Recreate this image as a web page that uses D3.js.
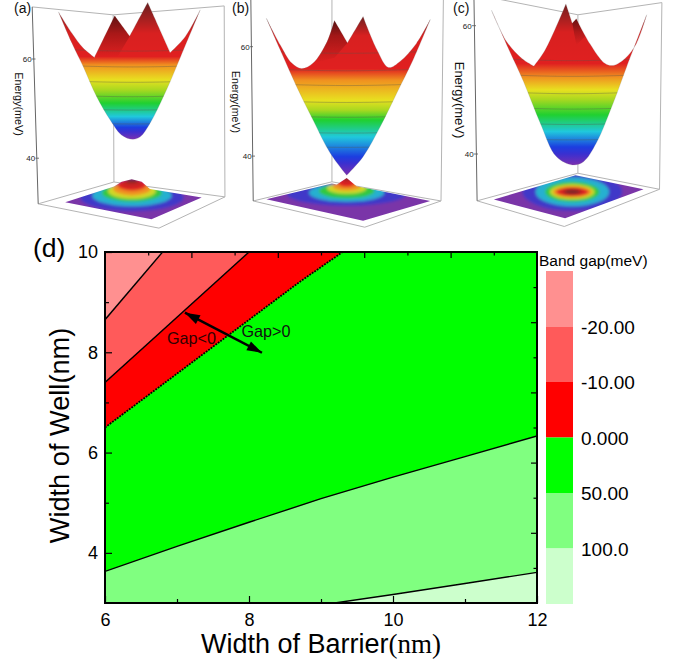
<!DOCTYPE html>
<html>
<head>
<meta charset="utf-8">
<script src="https://cdn.jsdelivr.net/npm/d3@7"></script>
<style>
  html, body { margin: 0; background: #fff; }
  svg { display: block; font-family: "Liberation Sans", Arial, sans-serif; }
</style>
</head>
<body>
<svg width="688" height="664"></svg>
<script>
// panel (d) contour boundaries, x = barrier width, y = well width
var line20X = [6, 6.8],  line20Y = [8.65, 10];
var line10X = [6, 8.0],  line10Y = [7.4, 10];
var line0X = [6, 8.7, 9.3],  line0Y = [6.5, 9.4, 10];
var line50X = [6, 7, 8, 9, 10, 11, 12];
var line50Y = [3.63, 4.13, 4.61, 5.08, 5.51, 5.92, 6.33];
var line100X = [6, 9.19, 10, 11, 12];
var line100Y = [3, 3, 3.17, 3.39, 3.61];

var legendColors = ["#ff9090", "#ff5a5a", "#ff0000", "#00ff00", "#80ff80", "#ccffcc"];
var legendLabels = ["-20.00", "-10.00", "0.000", "50.00", "100.0"];
var xMajor = [6, 8, 10, 12], xMinor = [7, 9, 11];
var yMajor = [4, 6, 8, 10], yMinor = [5, 7, 9];
var mirrorMajor = [.2, .4, .6, .8], mirrorMinor = [.1, .3, .5, .7, .9];
var arrowX = [7.11, 8.18], arrowY = [8.79, 7.99];

// rainbow used by the 3D surfaces, bottom to top
var rainbow = ["#7a2fb0", "#3a30d0", "#1c3ee0", "#20c8dc", "#20d030", "#a8d820", "#e8e020", "#f09020", "#e02020", "#d82020", "#702020"];
// colours of the floor rings, outermost first
var ringColors = ["#4038c8", "#28b0d0", "#30c840", "#d0d828", "#f09020", "#e02020", "#c82020", "#802828"];

// panel (a): outline read clockwise from the left tip, tips are the sharp corners
var aOutlineK = [-.99, -.81, -.66, -.51, -.24, -.04, .2, .5, .7, .9, .64, .45, .23, .1, 0, -.15, -.3, -.48, -.66, -.81];
var aOutlineE = [69.5, 65.2, 62.2, 60.3, 68.7, 64.6, 71.4, 61.3, 64.5, 69.9, 60.5, 53.75, 47, 44.3, 43.8, 44.7, 47.7, 52.4, 58.5, 63.2];
var aTips = [0, 3, 4, 5, 6, 7, 9];
var aBackK = [-.51, -.24, -.04, -.2];
var aBackE = [60.3, 68.7, 64.6, 60.5];
var aLevels = [43.8, 45.35, 46.2, 48.4, 51.1, 53.75, 55.8, 58.8, 60.5, 65.2, 71];
var aContours = [61.7, 58.5, 55.4, 52.5, 49.8, 47];
var aFrameK = [-1.34, -.26, 1.22, -1.26, -.25, 1.23, .35];
var aFrameE = [70.5, 68.9, 70.7, 30.8, 35.2, 32.2, 25.9];
var aFloorK = [-.9, -.25, -.147, -.013, .12, .23, .92, .25];
var aFloorE = [31.1, 34.3, 35.26, 35.74, 35.26, 33.8, 32.1, 27.7];
var aRingRx = [.69, .53, .4, .32, .25, .19, .14, .08];
var aRingCy = [32.1, 32.5, 33, 33.4, 33.9, 34.6, 34.9, 35.4];
var aRingRy = [2.8, 2.2, 1.75, 1.6, 1.4, 1.15, .8, .4];

// panel (b)
var bOutlineK = [-.98, -.81, -.67, -.55, -.41, -.24, -.15, .01, .2, .37, .51, .65, .85, 1.02, .81, .61, .41, .2, 0, -.2, -.41, -.61, -.81];
var bOutlineE = [65.2, 60.3, 57, 56, 57, 60.9, 64.8, 60.7, 65.5, 59.4, 56.2, 57.3, 60.6, 65, 57.6, 51.5, 45.4, 39.9, 36.5, 40.5, 46.6, 52.7, 59.4];
var bTips = [0, 6, 7, 8, 13, 18];
var bBackK = [-.4, -.15, .01, -.15];
var bBackE = [57, 64.8, 60.7, 58];
var bLevels = [36.5, 38.7, 39.9, 43.5, 46.6, 48.4, 50.2, 53.9, 56, 62, 65.5];
var bContours = [58.9, 55.7, 53, 49.9, 47.2, 44.3, 41.7];
var bFrameK = [-1.17, -.18, 1.18, -1.14, -.18, 1.15, .22];
var bFrameE = [69.9, 69.1, 69.9, 31.8, 35.3, 31.8, 27];
var bFloorK = [-.98, -.18, -.12, 0, .12, 1.02, .2];
var bFloorE = [32.1, 35, 34.8, 36, 34.5, 31.8, 28.2];
var bRingRx = [.73, .46, .34, .24, .17, .11, .06, .03];
var bRingCy = [33.1, 33.3, 33.6, 34.1, 34.5, 35.1, 35.6, 36];
var bRingRy = [2.2, 1.65, 1.3, 1, .8, .73, .55, .37];

// panel (c)
var cOutlineK = [-1.01, -.82, -.63, -.48, -.34, -.08, 0, .05, .22, .41, .51, .66, .8, .93, .68, .51, .3, .14, 0, -.2, -.4, -.61, -.8];
var cOutlineE = [62.4, 57.5, 54.9, 53.7, 56.2, 63.4, 60.4, 61.1, 57.2, 54.1, 53.8, 54.9, 57.2, 61.7, 53.6, 47.9, 41.7, 38.8, 38.3, 39.6, 44.8, 51.3, 56.5];
var cTips = [0, 3, 5, 6, 7, 13];
var cBackK = [0, .05, .16, .05];
var cBackE = [60.4, 61.1, 58.3, 57];
var cLevels = [38.3, 40, 41.1, 43.5, 46.1, 48.5, 50, 52, 54.1, 59, 63.4];
var cContours = [54.65, 52.2, 49.5, 47.1, 44.7, 42.3];
var cFrameK = [-1.23, .07, 1.12, -1.19, .07, 1.09, -.1];
var cFrameE = [64.9, 61.7, 63.6, 32.7, 37, 34.5, 28.7];
var cFloorK = [-.98, .04, .89, -.09];
var cFloorE = [32.9, 36.7, 34.5, 30];
var cRingRx = [.625, .46, .34, .28, .24, .2, .14, .1];
var cRingCy = [34.1, 34.1, 34.1, 34.1, 34.1, 34.1, 34.1, 34.1];
var cRingRy = [2.96, 2.26, 1.56, 1.17, .9, .7, .5, .39];

var svg = d3.select("svg");
var defs = svg.append("defs");
defs.append("filter").attr("id", "soft").append("feGaussianBlur").attr("stdDeviation", 1.4);
var shade = defs.append("linearGradient").attr("id", "backShade").attr("x1", 0).attr("x2", 0).attr("y1", 0).attr("y2", 1);
shade.append("stop").attr("offset", 0).attr("stop-color", "#200000").attr("stop-opacity", .45);
shade.append("stop").attr("offset", 1).attr("stop-color", "#200000").attr("stop-opacity", 0);

var panels = [
    {id: "a", cx: 132.7, hw: 75, y60: 59, pxPerMeV: 4.96, outlineK: aOutlineK, outlineE: aOutlineE, tips: aTips, backK: aBackK, backE: aBackE, levels: aLevels, contours: aContours, frameK: aFrameK, frameE: aFrameE, floorK: aFloorK, floorE: aFloorE, ringRx: aRingRx, ringCy: aRingCy, ringRy: aRingRy, ringCx: -.01, labelX: 14, labelY: 13, nameX: 19, nameY: 104, nameSize: 10.8, tickRight: [32, 35.5], tickLen: 3.5},
    {id: "b", cx: 346.7, hw: 82, y60: 46.7, pxPerMeV: 5.47, outlineK: bOutlineK, outlineE: bOutlineE, tips: bTips, backK: bBackK, backE: bBackE, levels: bLevels, contours: bContours, frameK: bFrameK, frameE: bFrameE, floorK: bFloorK, floorE: bFloorE, ringRx: bRingRx, ringCy: bRingCy, ringRy: bRingRy, ringCx: 0, labelX: 232, labelY: 13, nameX: 236, nameY: 102, nameSize: 10.5, tickRight: [250, 252], tickLen: 3},
    {id: "c", cx: 572.3, hw: 80, y60: 25.7, pxPerMeV: 6.415, outlineK: cOutlineK, outlineE: cOutlineE, tips: cTips, backK: cBackK, backE: cBackE, levels: cLevels, contours: cContours, frameK: cFrameK, frameE: cFrameE, floorK: cFloorK, floorE: cFloorE, ringRx: cRingRx, ringCy: cRingCy, ringRy: cRingRy, ringCx: 0, labelX: 453, labelY: 13, nameX: 460, nameY: 100, nameSize: 13, tickRight: [472, 474], tickLen: 4}
];

panels.forEach(function(p) {
    var kx = d3.scaleLinear().domain([-1, 1]).range([p.cx - p.hw, p.cx + p.hw]);
    var ey = d3.scaleLinear().domain([60, 40]).range([p.y60, p.y60 + 20 * p.pxPerMeV]);
    var g = svg.append("g").attr("class", "panel-" + p.id);
    var color = d3.scaleLinear().domain(p.levels).range(rainbow);

    // frame: 0 TL, 1 TM, 2 TR, 3 BL, 4 BM, 5 BR, 6 front
    var fp = p.frameK.map(function(k, i) { return [kx(k), ey(p.frameE[i])]; });
    var frameLine = d3.line();
    [[0, 1, 2], [1, 4], [2, 5], [3, 4, 5], [3, 6, 5]].forEach(function(s) {
        g.append("path").attr("d", frameLine(s.map(function(i) { return fp[i]; })))
            .attr("fill", "none").attr("stroke", "#b4b4b4").attr("stroke-width", 1);
    });
    g.append("path").attr("d", frameLine([fp[0], fp[3]]))
        .attr("fill", "none").attr("stroke", "#666").attr("stroke-width", 1);

    // floor map
    var floorPts = p.floorK.map(function(k, i) { return [kx(k), ey(p.floorE[i])]; });
    defs.append("clipPath").attr("id", "floor-" + p.id).append("path").attr("d", frameLine(floorPts) + "Z");
    var floor = g.append("g").attr("clip-path", "url(#floor-" + p.id + ")");
    var rings = floor.append("g").attr("filter", "url(#soft)");
    rings.append("path").attr("d", frameLine(floorPts) + "Z").attr("fill", "#7a35a8").attr("stroke", "#7a35a8").attr("stroke-width", 8);
    p.ringRx.forEach(function(r, i) {
        rings.append("ellipse")
            .attr("cx", kx(p.ringCx))
            .attr("cy", ey(p.ringCy[i]))
            .attr("rx", kx(r) - kx(0))
            .attr("ry", ey(0) - ey(p.ringRy[i]))
            .attr("fill", ringColors[i]);
    });

    // surface, coloured by energy; repeating a point keeps that corner sharp
    var outline = [];
    p.outlineK.forEach(function(k, i) {
        var pt = [kx(k), ey(p.outlineE[i])];
        outline.push(pt);
        if (p.tips.indexOf(i) >= 0) outline.push(pt);
    });
    var surfaceLine = d3.line().curve(d3.curveCatmullRomClosed.alpha(.5));
    var eMin = p.levels[0], eMax = p.levels[p.levels.length - 1];
    var grad = defs.append("linearGradient").attr("id", "grad-" + p.id)
        .attr("gradientUnits", "userSpaceOnUse")
        .attr("x1", 0).attr("x2", 0).attr("y1", ey(eMin)).attr("y2", ey(eMax));
    p.levels.forEach(function(l) {
        grad.append("stop").attr("offset", (l - eMin) / (eMax - eMin)).attr("stop-color", color(l));
    });
    defs.append("clipPath").attr("id", "surf-" + p.id).append("path").attr("d", surfaceLine(outline));
    g.append("path").attr("d", surfaceLine(outline))
        .attr("fill", "url(#grad-" + p.id + ")")
        .attr("stroke", "#888").attr("stroke-opacity", .35).attr("stroke-width", .6);

    // back peaks sit in shadow
    g.append("path").attr("clip-path", "url(#surf-" + p.id + ")")
        .attr("d", frameLine(p.backK.map(function(k, i) { return [kx(k), ey(p.backE[i])]; })) + "Z")
        .attr("fill", "url(#backShade)");

    var contourLine = d3.line().curve(d3.curveBasis);
    var cg = g.append("g").attr("clip-path", "url(#surf-" + p.id + ")");
    p.contours.forEach(function(e) {
        cg.append("path")
            .attr("d", contourLine([[kx(-1.1), ey(e + .3)], [kx(0), ey(e - .3)], [kx(1.1), ey(e + .3)]]))
            .attr("fill", "none").attr("stroke", "#55554a").attr("stroke-opacity", .5).attr("stroke-width", .7);
    });

    // energy ticks
    [60, 40].forEach(function(v) {
        var xr = v === 60 ? p.tickRight[0] : p.tickRight[1];
        g.append("line").attr("x1", xr).attr("x2", xr + p.tickLen).attr("y1", ey(v)).attr("y2", ey(v))
            .attr("stroke", "#555").attr("stroke-width", .8);
        g.append("text").attr("x", xr - .3).attr("y", ey(v) + 3).attr("text-anchor", "end")
            .attr("font-size", 8).attr("fill", "#222").text(v);
    });
    g.append("text").attr("transform", "translate(" + p.nameX + "," + p.nameY + ") rotate(90)")
        .attr("text-anchor", "middle").attr("font-size", p.nameSize).attr("dy", "0.35em").attr("fill", "#111").text("Energy(meV)");
    g.append("text").attr("x", p.labelX).attr("y", p.labelY).attr("font-size", 14).attr("fill", "#111").text("(" + p.id + ")");
});

// panel (d)
var x = d3.scaleLinear().domain([6, 12]).range([105, 537]);
var y = d3.scaleLinear().domain([3, 10]).range([603, 252]);
var mirrorX = d3.scaleLinear().domain([0, 1]).range([105, 537]);
var mirrorY = d3.scaleLinear().domain([0, 1]).range([252, 603]);

defs.append("clipPath").attr("id", "plot").append("rect")
    .attr("x", x(6)).attr("y", y(10)).attr("width", x(12) - x(6)).attr("height", y(3) - y(10));

var plot = svg.append("g").attr("clip-path", "url(#plot)");
plot.append("rect").attr("x", x(6)).attr("y", y(10)).attr("width", x(12) - x(6)).attr("height", y(3) - y(10)).attr("fill", legendColors[5]);

function zip(xs, ys) { return xs.map(function(v, i) { return [v, ys[i]]; }); }
var area = d3.area().x(function(d) { return x(d[0]); }).y0(function(d) { return y(d[1]); }).y1(y(10));
var line = d3.line().x(function(d) { return x(d[0]); }).y(function(d) { return y(d[1]); });

var bands = [
    {pts: zip(line100X, line100Y), fill: legendColors[4], from: 1},
    {pts: zip(line50X, line50Y), fill: legendColors[3], from: 0},
    {pts: zip(line0X, line0Y), fill: legendColors[2], from: 0, dash: "1.8,1.2", width: 1.8},
    {pts: zip(line10X, line10Y), fill: legendColors[1], from: 0},
    {pts: zip(line20X, line20Y), fill: legendColors[0], from: 0}
];
bands.forEach(function(b) {
    plot.append("path").attr("d", area(b.pts)).attr("fill", b.fill);
});
bands.forEach(function(b) {
    plot.append("path").attr("d", line(b.pts.slice(b.from)))
        .attr("fill", "none").attr("stroke", "#000")
        .attr("stroke-width", b.width || 1.4)
        .attr("stroke-dasharray", b.dash || null);
});

// axes with inward ticks, the mirrored top and right ones have their own spacing
function styleAxis(sel, size) {
    sel.select(".domain").remove();
    sel.selectAll(".tick line").attr("stroke", "#000").attr("stroke-width", 1.2);
    sel.selectAll("text").attr("font-family", "Liberation Sans").attr("font-size", size).attr("fill", "#000");
}
svg.append("g").attr("transform", "translate(0," + y(3) + ")")
    .call(d3.axisBottom(x).tickValues(xMajor).tickSize(-7).tickPadding(10.5).tickFormat(d3.format("d")))
    .call(styleAxis, 18);
svg.append("g").attr("transform", "translate(0," + y(3) + ")")
    .call(d3.axisBottom(x).tickValues(xMinor).tickSize(-4).tickFormat(""))
    .call(styleAxis, 10);
svg.append("g").attr("transform", "translate(" + x(6) + ",0)")
    .call(d3.axisLeft(y).tickValues(yMajor).tickSize(-7).tickPadding(7).tickFormat(d3.format("d")))
    .call(styleAxis, 18);
svg.append("g").attr("transform", "translate(" + x(6) + ",0)")
    .call(d3.axisLeft(y).tickValues(yMinor).tickSize(-4).tickFormat(""))
    .call(styleAxis, 10);
svg.append("g").attr("transform", "translate(0," + y(10) + ")")
    .call(d3.axisTop(mirrorX).tickValues(mirrorMajor).tickSize(-6).tickFormat(""))
    .call(styleAxis, 10);
svg.append("g").attr("transform", "translate(0," + y(10) + ")")
    .call(d3.axisTop(mirrorX).tickValues(mirrorMinor).tickSize(-3.5).tickFormat(""))
    .call(styleAxis, 10);
svg.append("g").attr("transform", "translate(" + x(12) + ",0)")
    .call(d3.axisRight(mirrorY).tickValues(mirrorMajor).tickSize(-6).tickFormat(""))
    .call(styleAxis, 10);
svg.append("g").attr("transform", "translate(" + x(12) + ",0)")
    .call(d3.axisRight(mirrorY).tickValues(mirrorMinor).tickSize(-3.5).tickFormat(""))
    .call(styleAxis, 10);

svg.append("rect").attr("x", x(6)).attr("y", y(10)).attr("width", x(12) - x(6)).attr("height", y(3) - y(10))
    .attr("fill", "none").attr("stroke", "#000").attr("stroke-width", 2);

// double headed arrow between the two gap regions
var ap = zip(arrowX, arrowY).map(function(d) { return [x(d[0]), y(d[1])]; });
var ang = Math.atan2(ap[1][1] - ap[0][1], ap[1][0] - ap[0][0]);
function head(tip, a) {
    var l = 15, w = 5;
    var bx = tip[0] - l * Math.cos(a), by = tip[1] - l * Math.sin(a);
    return d3.line()([tip, [bx - w * Math.sin(a), by + w * Math.cos(a)], [bx + w * Math.sin(a), by - w * Math.cos(a)]]) + "Z";
}
svg.append("path").attr("d", d3.line()(ap)).attr("stroke", "#000").attr("stroke-width", 2.4);
svg.append("path").attr("d", head(ap[1], ang)).attr("fill", "#000");
svg.append("path").attr("d", head(ap[0], ang + Math.PI)).attr("fill", "#000");

svg.append("text").attr("x", 167).attr("y", 344).attr("font-size", 16.2).attr("fill", "#300000").text("Gap<0");
svg.append("text").attr("x", 241.5).attr("y", 337).attr("font-size", 16.2).attr("fill", "#111").text("Gap>0");

svg.append("text").attr("x", 33).attr("y", 257).attr("font-size", 26.5).attr("fill", "#000").text("(d)");

svg.append("text").attr("transform", "translate(69,435.5) rotate(-90)").attr("text-anchor", "middle")
    .attr("font-size", 27.2).attr("fill", "#000").text("Width of Well(nm)");
var xl = svg.append("text").attr("x", 321).attr("y", 653).attr("text-anchor", "middle").attr("font-size", 27).attr("fill", "#000");
xl.append("tspan").text("Width of Barrier");
xl.append("tspan").attr("font-family", "Liberation Serif").text("(nm)");

// colour legend
var legend = d3.scaleBand().domain(d3.range(legendColors.length)).range([271, 604]);
svg.append("g").selectAll("rect").data(legendColors).join("rect")
    .attr("x", 546).attr("width", 27)
    .attr("y", function(d, i) { return legend(i); })
    .attr("height", legend.bandwidth())
    .attr("fill", function(d) { return d; });
svg.append("g").selectAll("text").data(legendLabels).join("text")
    .attr("x", 581)
    .attr("y", function(d, i) { return legend(i + 1) + 7; })
    .attr("font-size", 19).attr("fill", "#000")
    .text(function(d) { return d; });
svg.append("text").attr("x", 539).attr("y", 266).attr("font-size", 15.5).attr("fill", "#000").text("Band gap(meV)");
</script>
</body>
</html>
